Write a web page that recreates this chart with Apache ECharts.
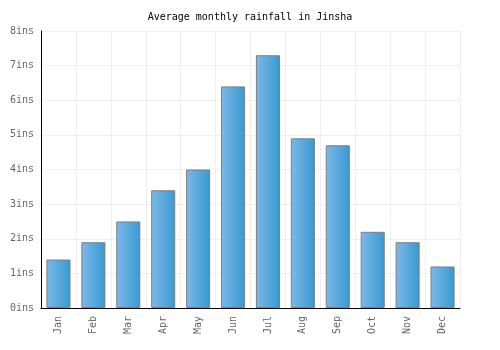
<!DOCTYPE html>
<html>
<head>
    <meta charset="utf-8" />
    <title>Average monthly rainfall in Jinsha</title>
    <script src="https://cdn.jsdelivr.net/npm/echarts@6.0.0/dist/echarts.min.js"></script>
    <style>
        body { margin: 0; background: #fff; }
    </style>
</head>
<body>
    <div id="main" style="width: 500px;height:350px;"></div>
    <script type="text/javascript">
        // data
        var months = ['Jan', 'Feb', 'Mar', 'Apr', 'May', 'Jun', 'Jul', 'Aug', 'Sep', 'Oct', 'Nov', 'Dec'];
        var rainfall = [1.4, 1.9, 2.5, 3.4, 4.0, 6.4, 7.3, 4.9, 4.7, 2.2, 1.9, 1.2];
        var yUnit = 'ins';

        var monoFont = '"DejaVu Sans Mono", monospace';
        var myChart = echarts.init(document.getElementById('main'));

        var option = {
            animation: false,
            title: {
                text: 'Average monthly rainfall in Jinsha',
                left: 'center',
                top: 7,
                textStyle: { fontFamily: monoFont, fontSize: 10, fontWeight: 'normal', color: '#000' }
            },
            grid: { left: 41, right: 40, top: 31, bottom: 42 },
            xAxis: {
                type: 'category',
                data: months,
                boundaryGap: true,
                axisLine: { lineStyle: { color: '#000', width: 1 } },
                axisTick: { show: false },
                splitLine: { show: true, lineStyle: { color: '#eeeeee' } },
                axisLabel: {
                    rotate: 90,
                    interval: 0,
                    margin: 8,
                    fontFamily: monoFont,
                    fontSize: 10,
                    color: '#666'
                }
            },
            yAxis: {
                type: 'value',
                min: 0,
                max: 8,
                interval: 1,
                axisLine: { show: true, lineStyle: { color: '#000', width: 1 } },
                axisTick: { show: false },
                splitLine: { show: true, lineStyle: { color: '#eeeeee' } },
                axisLabel: {
                    formatter: '{value}' + yUnit,
                    margin: 7,
                    fontFamily: monoFont,
                    fontSize: 10,
                    color: '#666'
                }
            },
            series: [
                {
                    type: 'bar',
                    data: rainfall,
                    barCategoryGap: '31%',
                    itemStyle: {
                        borderColor: '#7f7f7f',
                        borderWidth: 1,
                        color: new echarts.graphic.LinearGradient(0, 0, 1, 0, [
                            { offset: 0, color: '#7db9e8' },
                            { offset: 1, color: '#3799d2' }
                        ])
                    }
                }
            ]
        };

        myChart.setOption(option);
    </script>
</body>
</html>
